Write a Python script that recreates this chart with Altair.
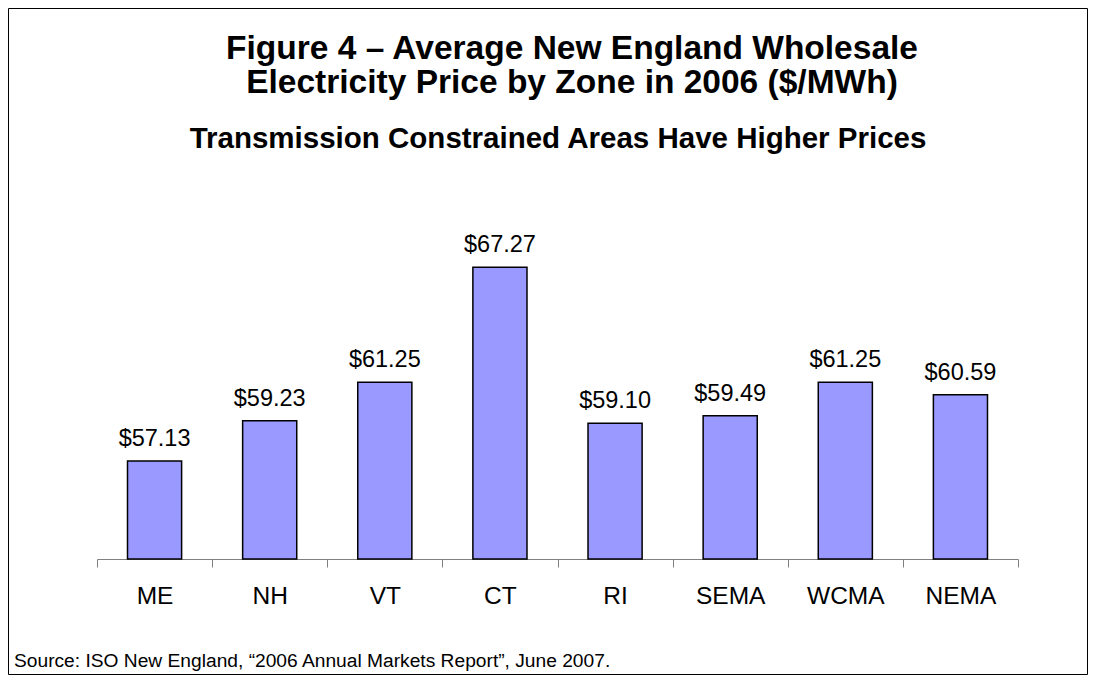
import altair as alt
import pandas as pd

zones = ["ME", "NH", "VT", "CT", "RI", "SEMA", "WCMA", "NEMA"]
prices = [57.13, 59.23, 61.25, 67.27, 59.10, 59.49, 61.25, 60.59]
price_labels = ["$57.13", "$59.23", "$61.25", "$67.27", "$59.10", "$59.49", "$61.25", "$60.59"]

title_line1 = "Figure 4 \u2013 Average New England Wholesale"
title_line2 = "Electricity Price by Zone in 2006 ($/MWh)"
subtitle_text = "Transmission Constrained Areas Have Higher Prices"
source_text = "Source: ISO New England, \u201c2006 Annual Markets Report\u201d, June 2007."

df = pd.DataFrame({"zone": zones, "price": prices, "label": price_labels, "base": [52] * len(zones)})

FONT = "Liberation Sans"
W, H = 921, 344
PL, PT = 89, 207
CW, CH = 1080, 667

x_enc = alt.X("zone:N", sort=zones, title=None,
              scale=alt.Scale(paddingInner=0, paddingOuter=0),
              axis=alt.Axis(tickBand="extent", labelAngle=0, labelFont=FONT, labelFontSize=24.5,
                            labelColor="black", labelBaseline="alphabetic", labelPadding=36,
                            tickSize=8, tickColor="#808080",
                            domainColor="#808080", tickWidth=1, domainWidth=1, grid=False))
y_scale = alt.Scale(domain=[52, 70], zero=False, nice=False)

base = alt.Chart(df)

bars = base.mark_bar(color="#9999FF", stroke="black", strokeWidth=1.5,
                     width=alt.RelativeBandSize(0.47)).encode(
    x=x_enc,
    y=alt.Y("price:Q", scale=y_scale, axis=None),
    y2="base:Q",
)

labels = base.mark_text(font=FONT, fontSize=23.5, color="black", baseline="alphabetic", dy=-15).encode(
    x=alt.X("zone:N", sort=zones),
    y=alt.Y("price:Q", scale=y_scale),
    text="label:N",
)


def note(text, x, y, size, weight="normal", align="center"):
    return alt.Chart(pd.DataFrame({"t": [text]})).mark_text(
        font=FONT, fontSize=size, fontWeight=weight, color="black", align=align,
        baseline="alphabetic"
    ).encode(x=alt.value(x), y=alt.value(y), text="t:N")


t1 = note(title_line1, 475, 59 - 8 - PT, 33.5, "bold")
t2 = note(title_line2, 475, 93 - 8 - PT, 33.5, "bold")
subtitle = note(subtitle_text, 461, 148 - 8 - PT, 29.5, "bold")
source = note(source_text, 6 - PL, 667 - 8 - PT, 19.2, "normal", "left")

border = alt.Chart(pd.DataFrame({"a": [0]})).mark_rect(
    fill="transparent", stroke="black", strokeWidth=1
).encode(x=alt.value(-PL + 0.5), x2=alt.value(CW - PL - 0.5),
         y=alt.value(-PT + 0.5), y2=alt.value(CH - PT - 0.5))

chart = alt.layer(border, bars, labels, t1, t2, subtitle, source).properties(
    width=W, height=H,
    padding={"left": PL, "top": PT, "right": CW - PL - W, "bottom": CH - PT - H},
    autosize=alt.AutoSizeParams(type="none"),
).configure(background="white", view=alt.ViewConfig(strokeWidth=0, stroke="transparent"))

chart.save("out.html", embed_options={"renderer": "svg", "actions": False})
